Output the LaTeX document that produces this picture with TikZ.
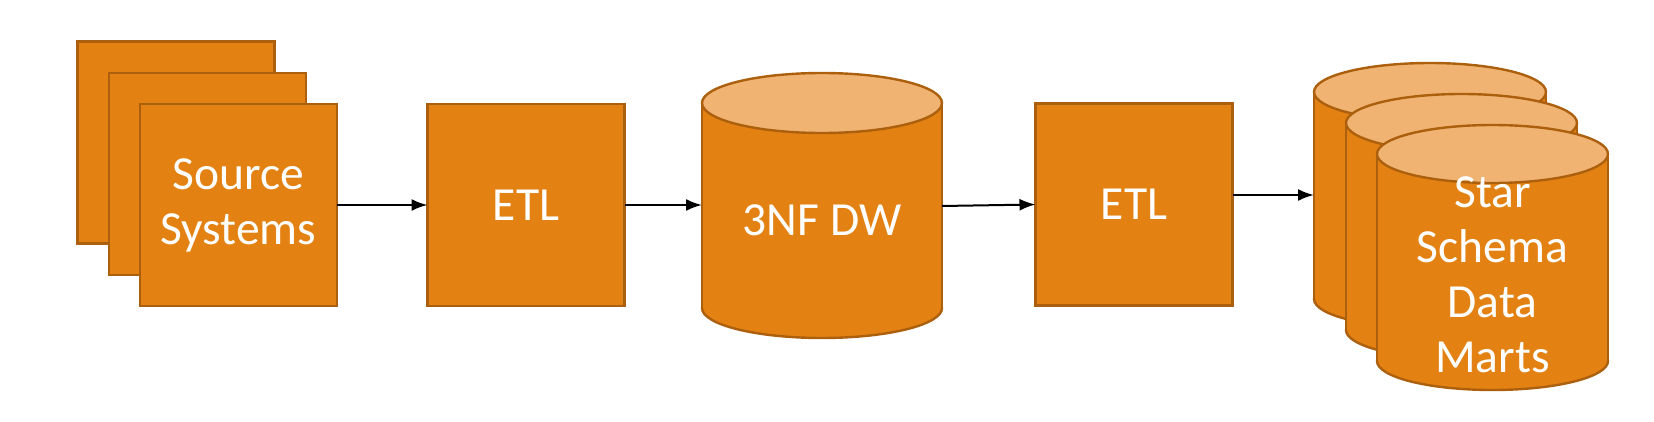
\documentclass[tikz,border=0pt]{standalone}
\usepackage{fontspec}
\setmainfont{Carlito}
\usetikzlibrary{arrows.meta}
\definecolor{orfill}{RGB}{227,130,19}
\definecolor{ortop}{RGB}{240,179,114}
\definecolor{orline}{RGB}{172,96,14}
\newcommand\dbcyl[5]{%
  \filldraw[cylline, fill=orfill] ({(#1+#2)/2},#4) ellipse[x radius={(#2-#1)/2}, y radius=#5];
  \fill[orfill] (#1,#3) rectangle (#2,#4);
  \draw[cylline] (#1,#3) -- (#1,#4) (#2,#3) -- (#2,#4);
  \filldraw[cylline, fill=ortop] ({(#1+#2)/2},#3) ellipse[x radius={(#2-#1)/2}, y radius=#5];
}
\begin{document}
\begin{tikzpicture}[x=1pt,y=-1pt,
  cylline/.style={draw=orline, line width=2.4pt},
  box/.style={draw=orline, fill=orfill, line width=2.4pt, minimum width=197pt, minimum height=202pt, outer sep=0pt, inner sep=0pt, text=white, align=center, font=\fontsize{47.5}{55}\selectfont},
  lbl/.style={text=white, align=center, inner sep=0pt, font=\fontsize{47.5}{55}\selectfont},
  flow/.style={draw=black, line width=2pt, -{Latex[length=16pt,width=12pt]}}]
\useasboundingbox (0,0) rectangle (1654,422);
% source systems stack
\node[box] (src3) at (176,142.5) {};
\node[box] (src2) at (207.5,174) {};
\node[box] (src) at (238.5,205) {Source\\Systems};
% ETL 1
\node[box] (etl1) at (526,205) {ETL};
% 3NF DW
\dbcyl{702}{942}{103}{308}{30}
\node[lbl] (dw) at (822,220) {3NF DW};
\coordinate (dw-w) at (702,205);
\coordinate (dw-e) at (942,206);
% ETL 2
\node[box] (etl2) at (1134,204.5) {ETL};
% Data marts
\dbcyl{1314}{1546}{92}{299}{29}
\dbcyl{1346}{1577}{123}{330}{29}
\dbcyl{1377}{1608}{154}{361}{29}
\node[lbl] (marts) at (1492.5,275) {Star\\Schema\\Data\\Marts};
\coordinate (mart-w) at (1314,195);
% connectors
\draw[flow] (src.east) -- (etl1.west);
\draw[flow] (etl1.east) -- (dw-w);
\draw[flow] (dw-e) -- (etl2.west);
\draw[flow] (etl2.east |- mart-w) -- (mart-w);
\end{tikzpicture}
\end{document}
